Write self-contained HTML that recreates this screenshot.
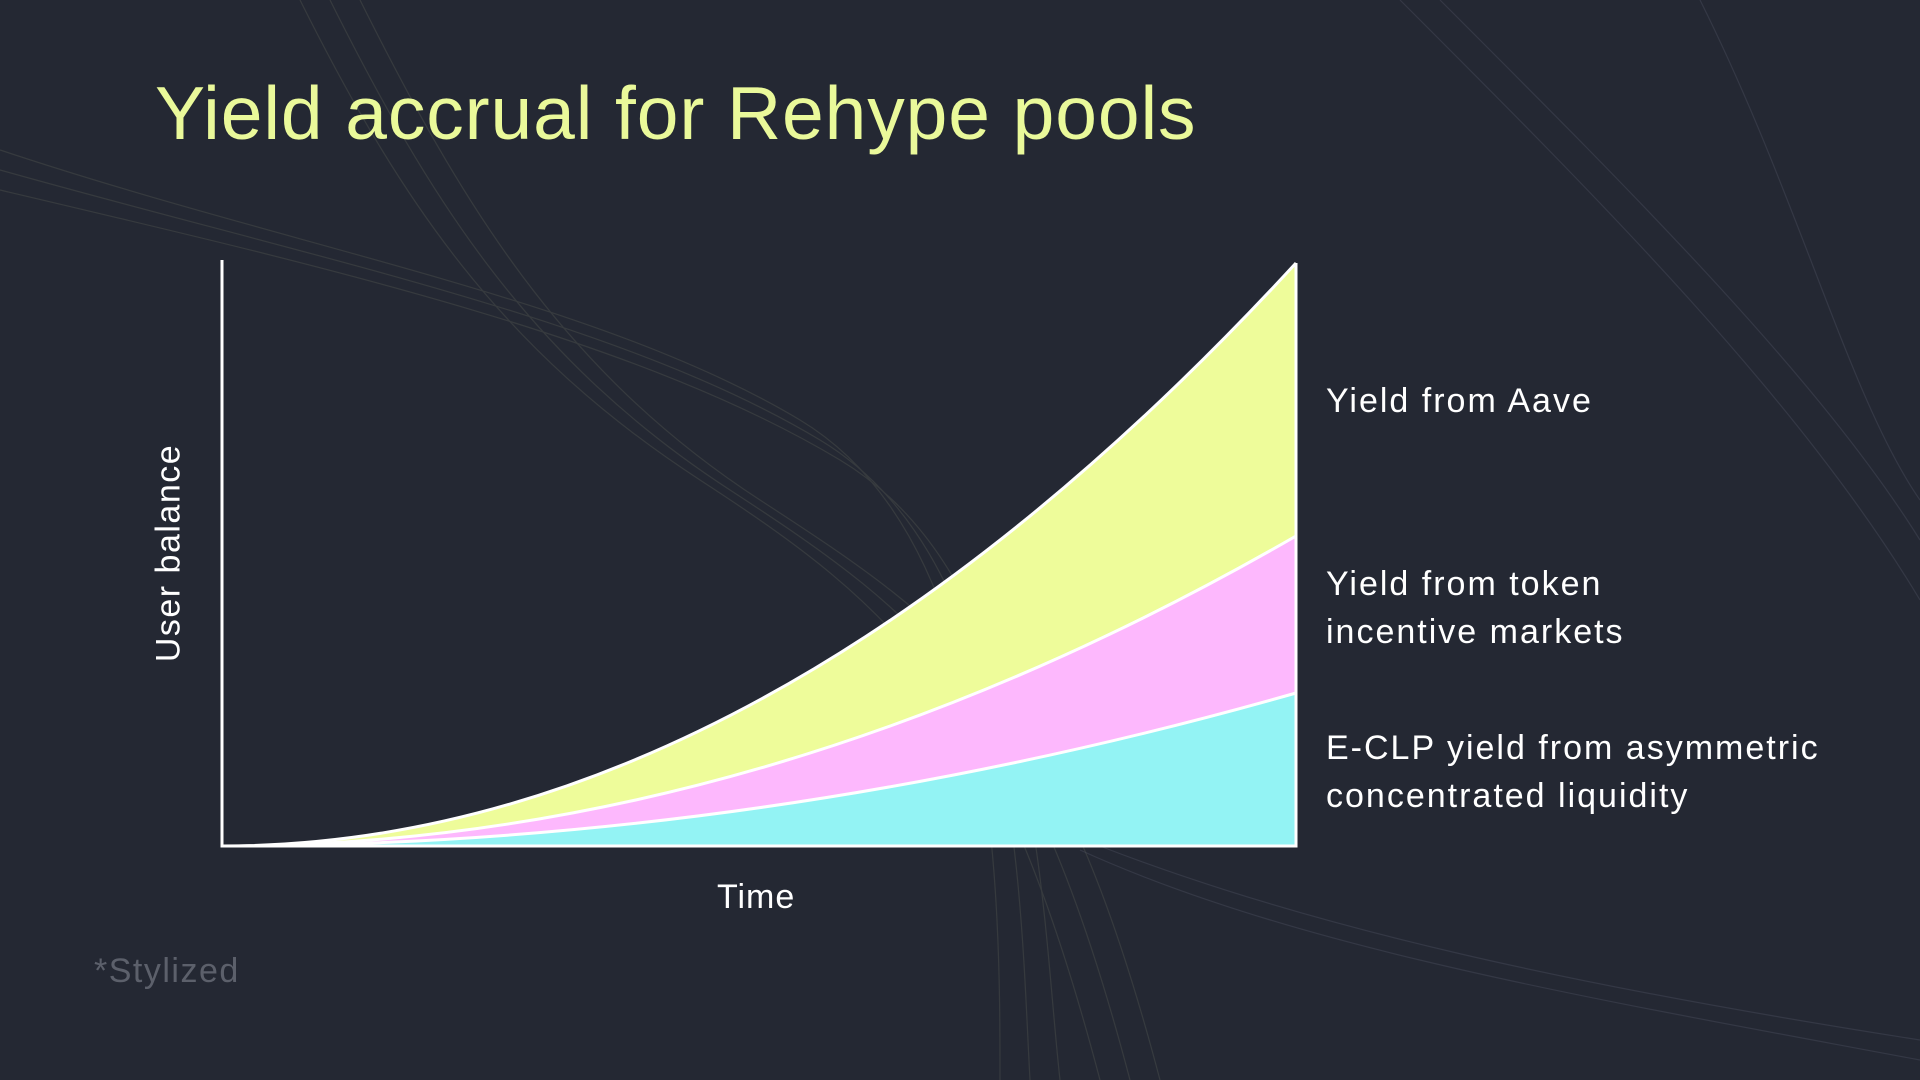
<!DOCTYPE html>
<html><head><meta charset="utf-8"><style>
html,body{margin:0;padding:0;background:#242833;}
body{width:1920px;height:1080px;overflow:hidden;position:relative;font-family:"Liberation Sans",sans-serif;}
.t{position:absolute;color:#fff;white-space:nowrap;}
</style></head><body>
<svg width="1920" height="1080" style="position:absolute;left:0;top:0">
<g fill="none" stroke="#5a5e55" stroke-width="1.2" opacity="0.35">
<path d="M0 150 C300 250 600 300 800 420 S1000 900 1000 1080"/>
<path d="M0 170 C320 260 620 320 820 440 S1020 900 1030 1080"/>
<path d="M0 190 C340 270 640 340 840 460 S1040 900 1060 1080"/>
<path d="M300 0 C400 200 500 350 700 480 S1000 700 1100 1080"/>
<path d="M330 0 C430 200 530 360 730 490 S1030 700 1130 1080"/>
<path d="M360 0 C460 200 560 370 760 500 S1060 700 1160 1080"/>
</g>
<g fill="none" stroke="#4d5060" stroke-width="1.2" opacity="0.4">
<path d="M1080 850 C1300 950 1600 1000 1920 1060"/>
<path d="M1060 830 C1300 930 1600 990 1920 1040"/>
<path d="M1400 0 C1600 200 1800 400 1920 600"/>
<path d="M1440 0 C1640 200 1820 380 1920 540"/>
<path d="M1700 0 C1800 200 1850 400 1920 500"/>
</g>
<path d="M222 846 Q759 846 1296 263 L1296 536 Q759 846 222 846Z" fill="#eefc9a"/>
<path d="M222 846 Q759 846 1296 536 L1296 693 Q759 846 222 846Z" fill="#fdb8fd"/>
<path d="M222 846 Q759 846 1296 693 L1296 846 Z" fill="#93f3f4"/>
<g fill="none" stroke="#fff" stroke-width="3">
<path d="M222 846 Q759 846 1296 263"/>
<path d="M222 846 Q759 846 1296 536"/>
<path d="M222 846 Q759 846 1296 693"/>
<path d="M222 260 L222 846 L1296 846 L1296 263"/>
</g>
</svg>
<div class="t" style="left:155px;top:70px;font-size:75px;letter-spacing:0.9px;color:#eaf99a;">Yield accrual for Rehype pools</div>
<div class="t" style="left:1326px;top:382px;font-size:34px;letter-spacing:2px;">Yield from Aave</div>
<div class="t" style="left:1326px;top:560px;font-size:34px;line-height:48px;letter-spacing:2px;">Yield from token<br>incentive markets</div>
<div class="t" style="left:1326px;top:724px;font-size:34px;line-height:48px;letter-spacing:2px;">E-CLP yield from asymmetric<br>concentrated liquidity</div>
<div class="t" style="left:717px;top:878px;font-size:34px;letter-spacing:1px;">Time</div>
<div class="t" style="left:169px;top:553px;font-size:34px;letter-spacing:1.5px;transform:translate(-50%,-50%) rotate(-90deg);">User balance</div>
<div class="t" style="left:94px;top:952px;font-size:34px;letter-spacing:1.5px;color:#5c606b;">*Stylized</div>
</body></html>
